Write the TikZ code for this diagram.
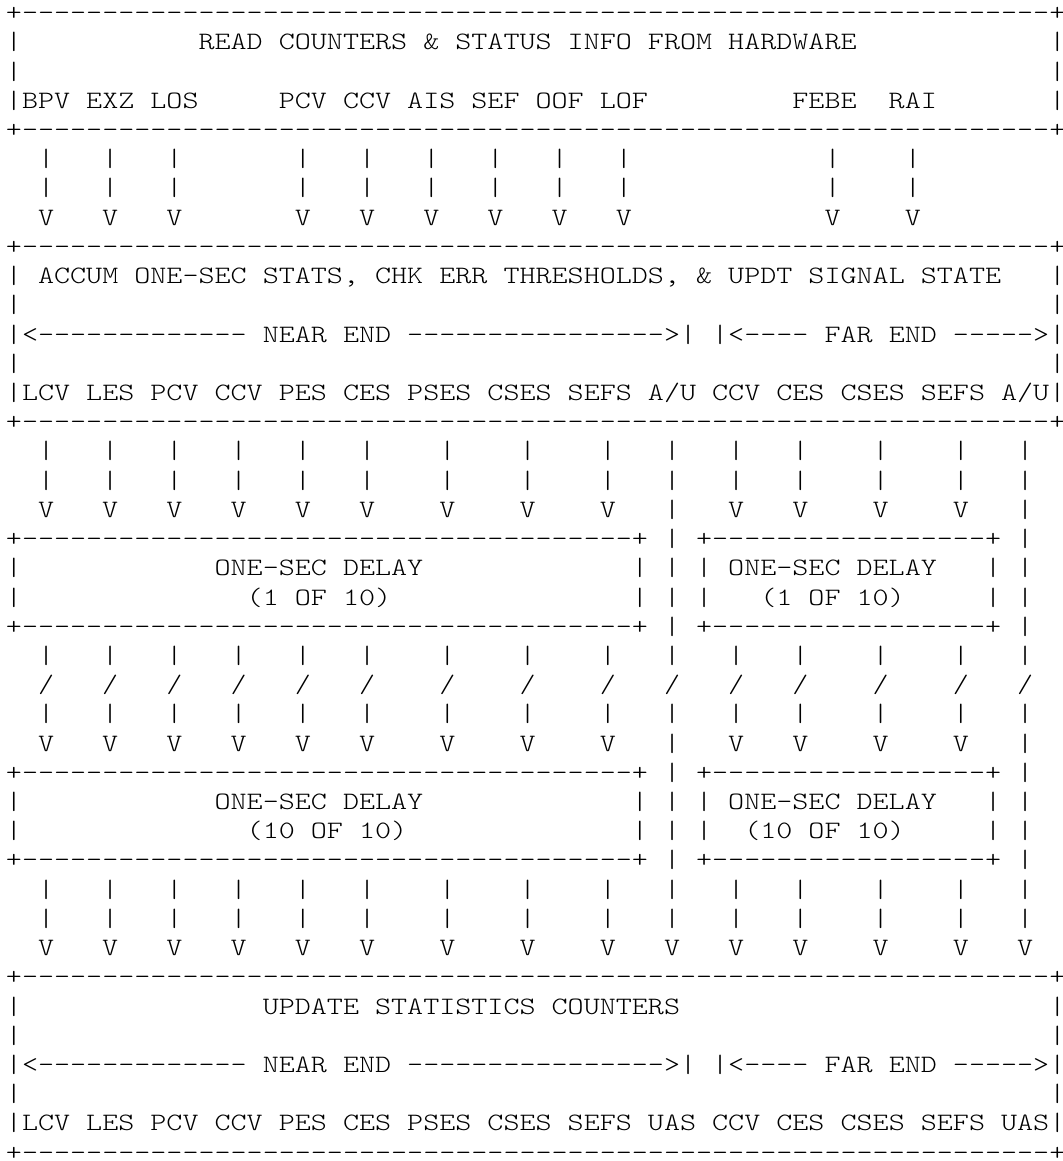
\documentclass[tikz,border=0pt]{standalone}
\usepackage{fontspec}
\newfontfamily\asciifont[FakeStretch=1.2229,WordSpace={1,0,0},PunctuationSpace=WordSpace]{lmmonolt10-regular.otf}
\newlength\cw
\ExplSyntaxOn
\cs_new:Npn \dashrun #1 {\prg_replicate:nn{#1}{-{}}}
\ExplSyntaxOff
\newcommand\gap[1]{\hspace*{#1\cw}}
\newcommand\afont{\asciifont\fontsize{18.75pt}{20pt}\selectfont\spaceskip=\cw\xspaceskip=\cw\relax}
% fifteen marks at columns 2,6,10,14,18,22,27,32,37,41,45,49,54,59,63
\newcommand\fifteen[1]{\gap{2}#1\gap{3}#1\gap{3}#1\gap{3}#1\gap{3}#1\gap{3}#1\gap{4}#1\gap{4}#1\gap{4}#1\gap{3}#1\gap{3}#1\gap{3}#1\gap{4}#1\gap{4}#1\gap{3}#1}
% arrows into split boxes: #1 at the 13 data columns, #2 at columns 41 and 63
\newcommand\splitrow[2]{\gap{2}#1\gap{3}#1\gap{3}#1\gap{3}#1\gap{3}#1\gap{3}#1\gap{4}#1\gap{4}#1\gap{4}#1\gap{3}#2\gap{3}#1\gap{3}#1\gap{4}#1\gap{4}#1\gap{3}#2}
% top arrows at columns 2,6,10,18,22,26,30,34,38,51,56
\newcommand\toprow[1]{\gap{2}#1\gap{3}#1\gap{3}#1\gap{7}#1\gap{3}#1\gap{3}#1\gap{3}#1\gap{3}#1\gap{3}#1\gap{12}#1\gap{4}#1}
\newcommand\asciiline[2]{\node[ln] (l#1) at (5.97,{20.6+(#1-1)*29.22}) {#2};}
\begin{document}
\settowidth{\cw}{\asciifont\fontsize{18.75pt}{20pt}\selectfont M}%
\begin{tikzpicture}[x=0.75pt,y=-0.75pt,
  ln/.style={anchor=base west,inner sep=0pt,outer sep=0pt,font=\afont,text=black}]
\fill[white] (0,0) rectangle (1063,1161);
\useasboundingbox (0,0) rectangle (1063,1161);
\asciiline{1}{+\dashrun{64}+}
\asciiline{2}{|\gap{11}READ COUNTERS \& STATUS INFO FROM HARDWARE\gap{12}|}
\asciiline{3}{|\gap{64}|}
\asciiline{4}{|BPV EXZ LOS\gap{5}PCV CCV AIS SEF OOF LOF\gap{9}FEBE\gap{2}RAI\gap{7}|}
\asciiline{5}{+\dashrun{64}+}
\asciiline{6}{\toprow{|}}
\asciiline{7}{\toprow{|}}
\asciiline{8}{\toprow{V}}
\asciiline{9}{+\dashrun{64}+}
\asciiline{10}{|\gap{1}ACCUM ONE-SEC STATS, CHK ERR THRESHOLDS, \& UPDT SIGNAL STATE\gap{3}|}
\asciiline{11}{|\gap{64}|}
\asciiline{12}{|<\dashrun{13} NEAR END \dashrun{16}>| |<\dashrun{4} FAR END \dashrun{5}>|}
\asciiline{13}{|\gap{64}|}
\asciiline{14}{|LCV LES PCV CCV PES CES PSES CSES SEFS A/U CCV CES CSES SEFS A/U|}
\asciiline{15}{+\dashrun{64}+}
\asciiline{16}{\fifteen{|}}
\asciiline{17}{\fifteen{|}}
\asciiline{18}{\splitrow{V}{|}}
\asciiline{19}{+\dashrun{38}+ | +\dashrun{17}+ |}
\asciiline{20}{|\gap{12}ONE-SEC DELAY\gap{13}| | | ONE-SEC DELAY\gap{3}| |}
\asciiline{21}{|\gap{14}(1 OF 10)\gap{15}| | |\gap{3}(1 OF 10)\gap{5}| |}
\asciiline{22}{+\dashrun{38}+ | +\dashrun{17}+ |}
\asciiline{23}{\fifteen{|}}
\asciiline{24}{\fifteen{/}}
\asciiline{25}{\fifteen{|}}
\asciiline{26}{\splitrow{V}{|}}
\asciiline{27}{+\dashrun{38}+ | +\dashrun{17}+ |}
\asciiline{28}{|\gap{12}ONE-SEC DELAY\gap{13}| | | ONE-SEC DELAY\gap{3}| |}
\asciiline{29}{|\gap{14}(10 OF 10)\gap{14}| | |\gap{2}(10 OF 10)\gap{5}| |}
\asciiline{30}{+\dashrun{38}+ | +\dashrun{17}+ |}
\asciiline{31}{\fifteen{|}}
\asciiline{32}{\fifteen{|}}
\asciiline{33}{\fifteen{V}}
\asciiline{34}{+\dashrun{64}+}
\asciiline{35}{|\gap{15}UPDATE STATISTICS COUNTERS\gap{23}|}
\asciiline{36}{|\gap{64}|}
\asciiline{37}{|<\dashrun{13} NEAR END \dashrun{16}>| |<\dashrun{4} FAR END \dashrun{5}>|}
\asciiline{38}{|\gap{64}|}
\asciiline{39}{|LCV LES PCV CCV PES CES PSES CSES SEFS UAS CCV CES CSES SEFS UAS|}
\asciiline{40}{+\dashrun{64}+}
\end{tikzpicture}
\end{document}
